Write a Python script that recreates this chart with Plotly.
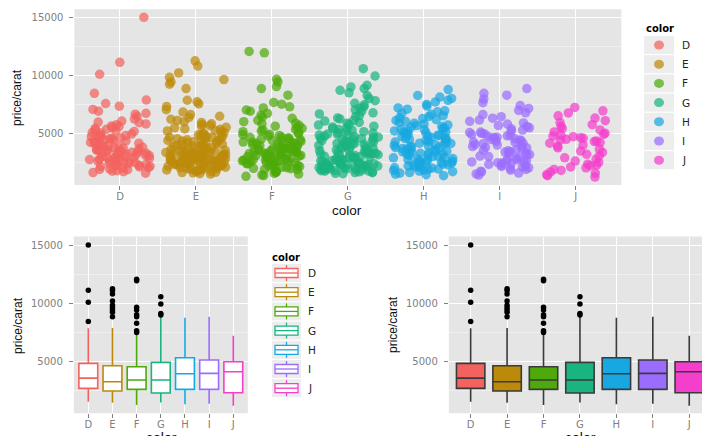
import math
import plotly.graph_objects as go

# ---------------- data ----------------
categories = ["D", "E", "F", "G", "H", "I", "J"]

# price/carat values per diamond colour (jittered strip chart)
ppc_D = [1560, 1610, 1690, 1730, 1780, 1860, 1890, 1940, 2010, 2030, 2100, 2130, 2160, 2230, 2250,
         2310, 2330, 2390, 2420, 2440, 2500, 2540, 2560, 2630, 2650, 2710, 2740, 2760, 2810, 2850,
         2870, 2920, 2960, 3010, 3020, 3080, 3100, 3150, 3180, 3220, 3270, 3290, 3350, 3360, 3420,
         3440, 3500, 3530, 3550, 3600, 3650, 3660, 3730, 3770, 3790, 3860, 3910, 3950, 4020, 4040,
         4120, 4150, 4210, 4250, 4310, 4340, 4430, 4450, 4520, 4570, 4600, 4670, 4710, 4790, 4820,
         4860, 4930, 5020, 5060, 5160, 5200, 5290, 5340, 5430, 5490, 5590, 5630, 5740, 5810, 5910,
         5970, 6060, 6230, 6470, 6650, 6720, 6910, 7060, 7340, 7560, 7870, 8450, 10090, 11120, 15000]
ppc_E = [1490, 1520, 1590, 1610, 1640, 1700, 1710, 1770, 1780, 1840, 1850, 1900, 1910, 1960, 1980,
         2030, 2040, 2080, 2090, 2120, 2150, 2170, 2200, 2230, 2260, 2280, 2300, 2330, 2360, 2380,
         2400, 2420, 2440, 2460, 2490, 2510, 2530, 2540, 2580, 2590, 2610, 2650, 2660, 2700, 2720,
         2730, 2750, 2790, 2810, 2820, 2860, 2880, 2890, 2930, 2940, 2960, 2980, 3000, 3030, 3050,
         3070, 3080, 3120, 3140, 3150, 3190, 3210, 3220, 3260, 3280, 3290, 3330, 3350, 3390, 3430,
         3460, 3490, 3530, 3560, 3600, 3630, 3670, 3690, 3750, 3770, 3830, 3860, 3880, 3940, 3960,
         4020, 4060, 4080, 4130, 4170, 4190, 4250, 4270, 4330, 4350, 4380, 4440, 4460, 4520, 4540,
         4590, 4640, 4660, 4720, 4750, 4830, 4870, 4950, 4990, 5080, 5120, 5200, 5250, 5340, 5380,
         5470, 5520, 5610, 5670, 5760, 5820, 5930, 6000, 6110, 6210, 6360, 6470, 6610, 6830, 7040,
         7310, 7540, 7710, 7850, 8860, 9230, 9430, 9630, 9830, 10200, 10800, 11250]
ppc_F = [1290, 1360, 1410, 1490, 1550, 1620, 1670, 1740, 1780, 1860, 1870, 1950, 1980, 2040, 2070,
         2130, 2150, 2220, 2240, 2300, 2320, 2370, 2390, 2440, 2460, 2510, 2520, 2580, 2590, 2630,
         2640, 2690, 2700, 2740, 2750, 2800, 2810, 2850, 2860, 2910, 2920, 2970, 2980, 3020, 3030,
         3080, 3090, 3140, 3150, 3190, 3200, 3250, 3260, 3300, 3310, 3360, 3370, 3400, 3410, 3440,
         3450, 3510, 3530, 3580, 3600, 3650, 3670, 3720, 3740, 3790, 3810, 3860, 3880, 3930, 3950,
         4000, 4020, 4080, 4090, 4150, 4170, 4220, 4240, 4300, 4320, 4380, 4400, 4460, 4490, 4570,
         4590, 4650, 4690, 4770, 4800, 4880, 4920, 5000, 5050, 5140, 5190, 5280, 5330, 5430, 5500,
         5610, 5690, 5800, 5870, 6000, 6120, 6290, 6400, 6570, 6710, 6900, 7010, 7190, 7280, 7510,
         7660, 8290, 8860, 9030, 9430, 9660, 11940, 12060]
ppc_G = [1520, 1550, 1600, 1610, 1660, 1680, 1730, 1740, 1780, 1790, 1840, 1850, 1890, 1900, 1940,
         1950, 1990, 2000, 2040, 2050, 2080, 2090, 2130, 2140, 2170, 2180, 2210, 2220, 2250, 2260,
         2280, 2290, 2300, 2320, 2350, 2370, 2420, 2440, 2490, 2500, 2550, 2570, 2620, 2640, 2690,
         2700, 2750, 2770, 2820, 2830, 2880, 2890, 2950, 2960, 3010, 3030, 3080, 3090, 3150, 3160,
         3210, 3230, 3280, 3290, 3340, 3350, 3400, 3420, 3480, 3500, 3570, 3590, 3660, 3680, 3740,
         3770, 3830, 3860, 3920, 3950, 4010, 4040, 4100, 4130, 4190, 4220, 4280, 4310, 4370, 4400,
         4460, 4490, 4550, 4580, 4640, 4670, 4730, 4760, 4820, 4850, 4910, 4940, 5010, 5050, 5140,
         5180, 5270, 5320, 5410, 5460, 5550, 5610, 5710, 5770, 5870, 5940, 6050, 6120, 6240, 6320,
         6450, 6540, 6670, 6770, 6910, 7020, 7170, 7290, 7460, 7590, 7810, 7990, 8260, 8490, 8710,
         8860, 9000, 9140, 9940, 10570]
ppc_H = [1350, 1430, 1480, 1570, 1610, 1690, 1730, 1800, 1830, 1900, 1930, 2000, 2020, 2090, 2120,
         2180, 2200, 2270, 2290, 2350, 2370, 2430, 2450, 2510, 2530, 2580, 2590, 2620, 2690, 2720,
         2790, 2820, 2890, 2920, 2990, 3020, 3090, 3120, 3190, 3220, 3280, 3310, 3370, 3400, 3470,
         3490, 3560, 3590, 3650, 3680, 3750, 3770, 3840, 3860, 3930, 3950, 4020, 4050, 4120, 4150,
         4220, 4250, 4320, 4350, 4420, 4450, 4520, 4550, 4620, 4640, 4710, 4740, 4810, 4840, 4900,
         4930, 5000, 5030, 5100, 5130, 5200, 5230, 5300, 5330, 5410, 5450, 5540, 5580, 5670, 5720,
         5810, 5860, 5950, 6010, 6110, 6170, 6270, 6340, 6450, 6520, 6640, 6720, 6850, 6940, 7080,
         7190, 7350, 7490, 7700, 7840, 8010, 8120, 8260, 8770]
ppc_I = [1400, 1500, 1570, 1670, 1730, 1830, 1880, 1970, 2020, 2100, 2140, 2220, 2260, 2330, 2370,
         2440, 2470, 2530, 2550, 2610, 2630, 2710, 2760, 2850, 2900, 2990, 3040, 3120, 3170, 3250,
         3290, 3380, 3420, 3500, 3540, 3620, 3660, 3740, 3780, 3860, 3900, 3990, 4030, 4100, 4140,
         4210, 4250, 4320, 4350, 4430, 4460, 4530, 4570, 4640, 4670, 4750, 4780, 4850, 4890, 4960,
         4990, 5070, 5110, 5210, 5280, 5400, 5470, 5590, 5670, 5800, 5890, 6030, 6140, 6300, 6430,
         6610, 6770, 6970, 7140, 7390, 7640, 7960, 8290, 8450, 8857]
ppc_J = [1230, 1350, 1440, 1570, 1670, 1800, 1890, 2020, 2100, 2210, 2270, 2340, 2490, 2610, 2770,
         2890, 3060, 3190, 3350, 3470, 3630, 3750, 3890, 3990, 4150, 4200, 4290, 4340, 4430, 4480,
         4570, 4620, 4710, 4760, 4850, 4910, 5010, 5120, 5290, 5420, 5600, 5740, 5930, 6090, 6310,
         6510, 6760, 6940, 7230]

# five-number box statistics (lower whisker, q1, median, q3, upper whisker)
box_lower = [1571, 1486, 1286, 1514, 1343, 1400, 1229]
box_q1 = [2714, 2486, 2629, 2314, 2629, 2629, 2343]
box_median = [3590, 3286, 3429, 3429, 3971, 4000, 4143]
box_q3 = [4857, 4657, 4571, 4943, 5343, 5143, 5000]
box_upper = [7857, 7890, 7300, 8900, 8771, 8857, 7229]

# outlying points beyond the whiskers
outlier_color = ["D", "D", "D", "D",
                 "E", "E", "E", "E", "E", "E", "E", "E", "E",
                 "F", "F", "F", "F", "F", "F", "F", "F", "F",
                 "G", "G", "G", "G"]
outlier_value = [8450, 10090, 11120, 15000,
                 8860, 9230, 9430, 9630, 9830, 10200, 10800, 11100, 11250,
                 7510, 7660, 8290, 8860, 9030, 9430, 9660, 11940, 12060,
                 9000, 9140, 9940, 10570]

y_ticks = [5000, 10000, 15000]

# ---------------- styling ----------------
W, H = 702, 436
palette = ["#F3625E", "#BC8A0A", "#4DAA0A", "#19B47F", "#17A8E2", "#9B6DFF", "#F43FCC"]
PANEL = "#E5E5E5"
GRID_MINOR = "#F0F0F0"
TICK_GREY = "#808080"
FONT = "DejaVu Sans"


def fx(px):
    return px / W


def fy(py):
    return 1 - py / H


def jitter(k, group, width=0.4):
    # deterministic hash-style jitter in [-width, width]
    h = math.sin((k + 1) * 12.9898 + group * 78.233) * 43758.5453
    return (h - math.floor(h) - 0.5) * 2 * width


ppc = {"D": ppc_D, "E": ppc_E, "F": ppc_F, "G": ppc_G, "H": ppc_H, "I": ppc_I, "J": ppc_J}
pos = {c: i + 1 for i, c in enumerate(categories)}

fig = go.Figure()

# --- strip chart with horizontal jitter ---
for i, c in enumerate(categories):
    vals = ppc[c]
    fig.add_trace(go.Scatter(
        x=[pos[c] + jitter(k, i) for k in range(len(vals))], y=vals, mode="markers",
        marker=dict(size=9.5, color=palette[i], opacity=0.72, line=dict(width=0)),
        xaxis="x", yaxis="y", showlegend=False, hoverinfo="skip"))

# --- boxplots: outlined (left) and filled (right) ---
for panel, (xa, ya) in enumerate([("x2", "y2"), ("x3", "y3")]):
    for i, c in enumerate(categories):
        if panel == 0:
            line_col, fill_col = palette[i], "white"
        else:
            line_col, fill_col = "#3A3A3A", palette[i]
        fig.add_trace(go.Box(
            x=[pos[c]], q1=[box_q1[i]], median=[box_median[i]], q3=[box_q3[i]],
            lowerfence=[box_lower[i]], upperfence=[box_upper[i]],
            width=0.78, whiskerwidth=0, boxpoints=False,
            line=dict(color=line_col, width=1.6), fillcolor=fill_col,
            xaxis=xa, yaxis=ya, showlegend=False, hoverinfo="skip"))
    fig.add_trace(go.Scatter(
        x=[pos[c] for c in outlier_color], y=outlier_value, mode="markers",
        marker=dict(size=5.5, color="black"),
        xaxis=xa, yaxis=ya, showlegend=False, hoverinfo="skip"))


def xaxis(domain, rng, anchor):
    return dict(domain=domain, range=rng, anchor=anchor,
                tickvals=[pos[c] for c in categories], ticktext=categories,
                ticks="outside", ticklen=4, tickcolor=TICK_GREY, tickwidth=1,
                tickfont=dict(family=FONT, size=10, color=TICK_GREY),
                ticklabelstandoff=-2,
                showgrid=True, gridcolor="white", gridwidth=1.3,
                zeroline=False, showline=False, fixedrange=True)


def yaxis(domain, rng, anchor):
    return dict(domain=domain, range=rng, anchor=anchor,
                tickvals=y_ticks, ticktext=[str(v) for v in y_ticks],
                ticks="outside", ticklen=4, tickcolor=TICK_GREY, tickwidth=1,
                tickfont=dict(family=FONT, size=10, color=TICK_GREY),
                ticklabelstandoff=4,
                showgrid=True, gridcolor="white", gridwidth=1.3,
                minor=dict(tickvals=[2500, 7500, 12500], showgrid=True,
                           gridcolor=GRID_MINOR, gridwidth=0.7, ticks=""),
                zeroline=False, showline=False, fixedrange=True)


shapes = []
annotations = []

# panel backgrounds
for x0, x1, y0, y1 in [(74.4, 621.3, 9.3, 185), (73.8, 247.8, 236.5, 413.3), (448.8, 702, 236.5, 413.3)]:
    shapes.append(dict(type="rect", xref="paper", yref="paper", layer="below",
                       x0=fx(x0), x1=fx(x1), y0=fy(y1), y1=fy(y0),
                       fillcolor=PANEL, line=dict(width=0)))


def title_ann(text, x, y, angle=0, yanchor="middle", size=13):
    annotations.append(dict(text=text, x=fx(x), y=fy(y), xref="paper", yref="paper",
                            showarrow=False, textangle=angle, xanchor="center", yanchor=yanchor,
                            font=dict(family="Liberation Sans", size=size, color="#111111")))


title_ann("color", 347, 210, size=13.5)
title_ann("price/carat", 17, 98, angle=-90, size=12)
title_ann("color", 161, 428, yanchor="top", size=14)
title_ann("price/carat", 18, 326, angle=-90, size=12)
title_ann("color", 580, 428, yanchor="top", size=14)
title_ann("price/carat", 393, 325, angle=-90, size=12)

# legend for the strip chart
annotations.append(dict(text="<b>color</b>", x=fx(644), y=fy(29), xref="paper", yref="paper",
                        showarrow=False, xanchor="left", yanchor="middle",
                        font=dict(family=FONT, size=10, color="black")))
for i, c in enumerate(categories):
    yc = 45 + i * 19.2
    shapes.append(dict(type="rect", xref="paper", yref="paper",
                       x0=fx(644), x1=fx(674), y0=fy(yc + 9), y1=fy(yc - 9),
                       fillcolor="#EDEDED", line=dict(width=0)))
    shapes.append(dict(type="circle", xref="paper", yref="paper",
                       x0=fx(654), x1=fx(664), y0=fy(yc + 4.5), y1=fy(yc - 4.5),
                       fillcolor=palette[i], opacity=0.72, line=dict(width=0)))
    annotations.append(dict(text=c, x=fx(680), y=fy(yc), xref="paper", yref="paper",
                            showarrow=False, xanchor="left", yanchor="middle",
                            font=dict(family=FONT, size=10.5, color="#222222")))

# legend for the outlined boxplot
annotations.append(dict(text="<b>color</b>", x=fx(270), y=fy(257), xref="paper", yref="paper",
                        showarrow=False, xanchor="left", yanchor="middle",
                        font=dict(family=FONT, size=10, color="black")))
for i, c in enumerate(categories):
    yc = 273 + i * 19.2
    col = palette[i]
    shapes.append(dict(type="rect", xref="paper", yref="paper",
                       x0=fx(272), x1=fx(301), y0=fy(yc + 9), y1=fy(yc - 9),
                       fillcolor="#EDEDED", line=dict(width=0)))
    shapes.append(dict(type="rect", xref="paper", yref="paper",
                       x0=fx(275), x1=fx(298), y0=fy(yc + 4.5), y1=fy(yc - 4.5),
                       fillcolor="white", line=dict(color=col, width=1.3)))
    shapes.append(dict(type="line", xref="paper", yref="paper",
                       x0=fx(275), x1=fx(298), y0=fy(yc), y1=fy(yc),
                       line=dict(color=col, width=1.3)))
    for a, b in [(yc - 4.5, yc - 8), (yc + 4.5, yc + 8)]:
        shapes.append(dict(type="line", xref="paper", yref="paper",
                           x0=fx(286.5), x1=fx(286.5), y0=fy(a), y1=fy(b),
                           line=dict(color=col, width=1.3)))
    annotations.append(dict(text=c, x=fx(306), y=fy(yc), xref="paper", yref="paper",
                            showarrow=False, xanchor="left", yanchor="middle",
                            font=dict(family=FONT, size=10.5, color="#222222")))

fig.update_layout(
    width=W, height=H,
    margin=dict(l=0, r=0, t=0, b=0),
    paper_bgcolor="white", plot_bgcolor="rgba(0,0,0,0)",
    font=dict(family=FONT),
    xaxis=xaxis([fx(74.4), fx(621.3)], [0.4, 7.6], "y"),
    yaxis=yaxis([fy(185), fy(9.3)], [543, 15690], "x"),
    xaxis2=xaxis([fx(73.8), fx(247.8)], [0.4, 7.6], "y2"),
    yaxis2=yaxis([fy(413.3), fy(236.5)], [578, 15728], "x2"),
    xaxis3=xaxis([fx(448.8), 1.0], [0.4, 7.35], "y3"),
    yaxis3=yaxis([fy(413.3), fy(236.5)], [578, 15728], "x3"),
    shapes=shapes,
    annotations=annotations,
    showlegend=False,
    boxmode="overlay",
)

fig.write_html("out.html")
